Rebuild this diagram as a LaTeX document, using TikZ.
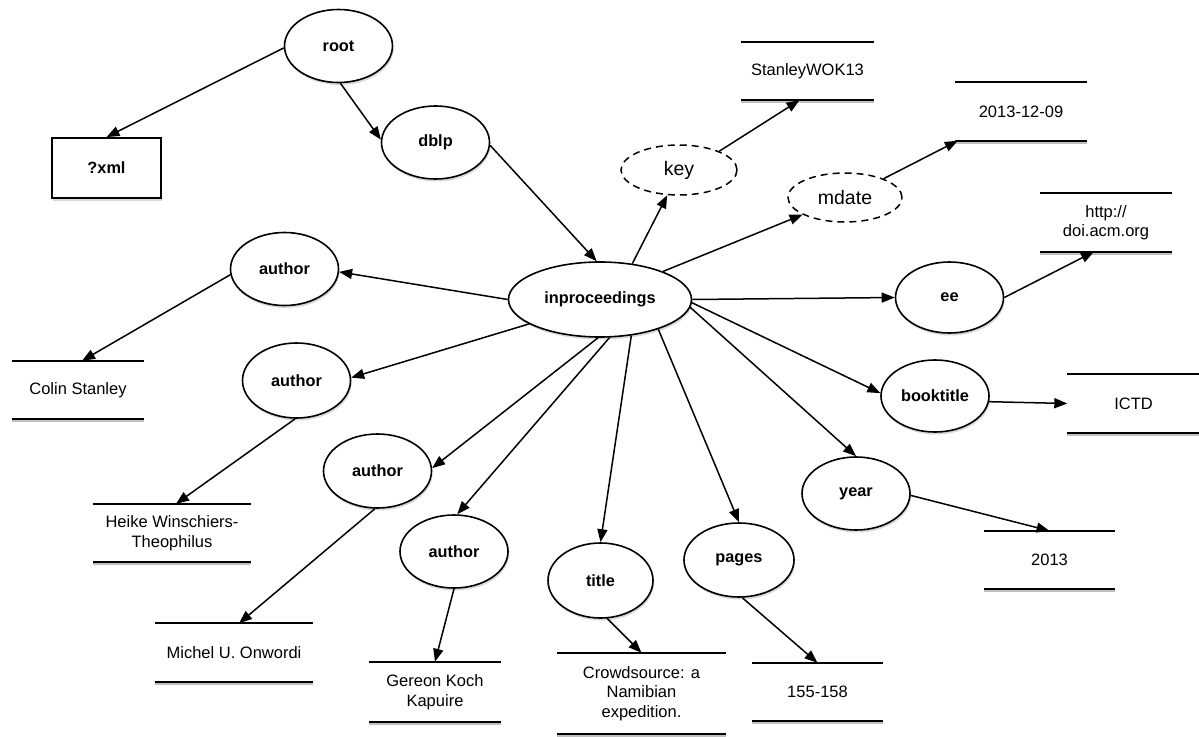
\documentclass[tikz,border=0pt]{standalone}
\usepackage{fontspec}
\setmainfont{Liberation Sans}
\usetikzlibrary{arrows.meta,shapes.geometric,shadows,calc}
\begin{document}
\begin{tikzpicture}[x=1pt,y=-1pt,
  every node/.style={inner sep=0pt},
  elem/.style={ellipse, draw, line width=1.6pt, fill=white, minimum width=108pt, minimum height=73pt,
    font=\fontsize{16.3}{18}\selectfont\bfseries,
    drop shadow={shadow xshift=1pt,shadow yshift=-2.5pt,fill=black!30}},
  attr/.style={ellipse, draw, line width=1.5pt, dash pattern=on 7pt off 5pt, minimum width=116pt, minimum height=50pt,
    font=\fontsize{19.5}{22}\selectfont},
  store/.style={rectangle, minimum width=132pt, minimum height=58pt, align=center,
    font=\fontsize{16.5}{19.5}\selectfont},
  conn/.style={line width=1.5pt, -{Triangle[length=13pt,width=10pt]}},
  sline/.style={line width=2pt},
  shline/.style={line width=2.5pt, black!25},
]
\useasboundingbox (0,0) rectangle (1199,736);

% element nodes
\node[elem] (root) at (338.5,46) {root};
\node[elem] (dblp) at (435.5,142.5) {dblp};
\node[rectangle, draw, line width=1.8pt, fill=white, minimum width=109pt, minimum height=60pt,
  font=\fontsize{16.3}{18}\selectfont\bfseries,
  drop shadow={shadow xshift=1pt,shadow yshift=-2.5pt,fill=black!30}] (xml) at (106.5,168) {?xml};
\node[elem, minimum width=183pt, minimum height=75pt] (inp) at (600,299.5) {inproceedings};
\node[elem] (a1) at (284.5,269) {author};
\node[elem, minimum height=75pt] (a2) at (296.5,380.5) {author};
\node[elem, minimum height=74pt] (a3) at (377.5,471) {author};
\node[elem] (a4) at (454,551.5) {author};
\node[elem, minimum width=105pt, minimum height=75pt] (title) at (600.5,580.5) {title};
\node[elem, minimum width=110pt, minimum height=74pt] (pages) at (739,560) {pages};
\node[elem] (year) at (856,493.5) {year};
\node[elem, minimum height=72pt] (book) at (935,396) {booktitle};
\node[elem, minimum height=71pt] (ee) at (949.5,297.5) {ee};
\node[attr] (key) at (679,170) {key};
\node[attr, minimum width=114pt, minimum height=49pt] (mdate) at (845,197.5) {mdate};

% value nodes
\node[store, minimum width=133pt] (swok) at (807.5,71) {StanleyWOK13};
\node[store] (date) at (1021,111.5) {2013-12-09};
\node[store] (url) at (1106,222.5) {http://\\doi.acm.org};
\node[store] (colin) at (78,390) {Colin Stanley};
\node[store, minimum width=158pt] (heike) at (172,533) {Heike Winschiers-\\Theophilus};
\node[store, minimum width=158pt] (michel) at (234,652.5) {Michel U. Onwordi};
\node[store, minimum height=60pt] (gereon) at (435,692) {Gereon Koch\\Kapuire};
\node[store, minimum width=169pt, minimum height=81pt] (crowd) at (641.5,693.5) {Crowdsource: a\\Namibian\\expedition.};
\node[store, minimum width=131pt] (pg) at (817.5,692) {155-158};
\node[store, minimum width=131pt] (yr) at (1049.5,560) {2013};
\node[store] (ictd) at (1133.5,403.5) {ICTD};

\foreach \s in {swok,date,url,colin,heike,michel,gereon,crowd,pg,yr,ictd}{
  \draw[shline] ([yshift=-2pt]\s.south west) -- ([yshift=-2pt]\s.south east);
  \draw[sline] (\s.north west) -- (\s.north east) (\s.south west) -- (\s.south east);
}

% connectors
\draw[conn] (root.182) -- (xml.north);
\draw[conn] (root.273) -- (dblp.177);
\draw[conn] (dblp.357) -- (inp.95);
\draw[conn] (inp.180) -- (a1.357);
\draw[conn] (a1.186) -- ($(colin.north)+(4,0)$);
\draw[conn] (inp.199) -- (a2.3);
\draw[conn] (a2.268) -- ($(heike.north)+(4,0)$);
\draw[conn] (inp.267) -- (a3.3);
\draw[conn] (a3.266) -- ($(michel.north)+(5,0)$);
\draw[conn] (inp.284) -- (a4.85);
\draw[conn] (a4.270) -- (gereon.north);
\draw[conn] (inp.311) -- (title.north);
\draw[conn] (title.280) -- (crowd.north);
\draw[conn] (inp.333) -- (pages.north);
\draw[conn] (pages.275) -- (pg.north);
\draw[conn] (inp.355) -- (year.north);
\draw[conn] (year.358) -- (yr.north);
\draw[conn] (inp.358) -- (book.177);
\draw[conn] (book.354) -- (ictd.west);
\draw[conn] (inp.0) -- (ee.west);
\draw[conn] (ee.east) -- ($(url.south)+(-12,0)$);
\draw[conn] (inp.48) -- (key.245);
\draw[conn] (key.25) -- ($(swok.south)+(-8,0)$);
\draw[conn] (inp.24) -- (mdate.202);
\draw[conn] (mdate.26) -- ($(date.south west)+(3,0)$);
\end{tikzpicture}
\end{document}
